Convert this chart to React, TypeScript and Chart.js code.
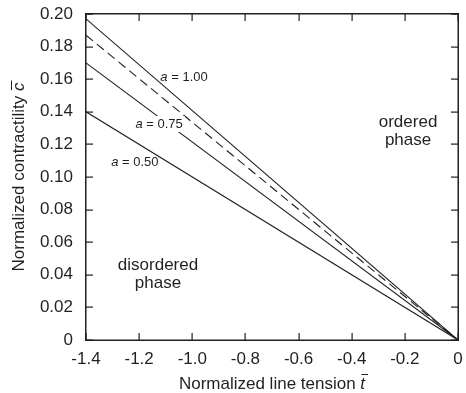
import React, { useEffect, useRef } from 'react';
import { Chart, registerables } from 'chart.js';

Chart.register(...registerables);

const tension = [-1.4, 0];
const curveA100 = [0.197, 0];
const curveDashed = [0.187, 0];
const curveA075 = [0.17, 0];
const curveA050 = [0.14, 0];

const xTicks = [-1.4, -1.2, -1.0, -0.8, -0.6, -0.4, -0.2, 0];
const xTickLabels = ['-1.4', '-1.2', '-1.0', '-0.8', '-0.6', '-0.4', '-0.2', '0'];
const yTicks = [0, 0.02, 0.04, 0.06, 0.08, 0.1, 0.12, 0.14, 0.16, 0.18, 0.2];
const yTickLabels = ['0', '0.02', '0.04', '0.06', '0.08', '0.10', '0.12', '0.14', '0.16', '0.18', '0.20'];

const curveLabelValues = ['1.00', '0.75', '0.50'];
const curveLabelX = [-1.031, -1.125, -1.216];
const curveLabelY = [0.1613, 0.1325, 0.109];
const curveLabelMasked = [false, true, false];

const regionLines = [['ordered', 'phase'], ['disordered', 'phase']];
const regionX = [-0.188, -1.129];
const regionY = [0.1337, 0.046];

const xTitle = 'Normalized line tension ';
const xTitleSym = 't';
const yTitle = 'Normalized contractility ';
const yTitleSym = 'c';

const INK = '#231f20';
const FAMILY = '"Liberation Sans", Arial, Helvetica, sans-serif';

function toPoints(xs: number[], ys: number[]) {
  return xs.map((x, i) => ({ x, y: ys[i] }));
}

const decorPlugin = {
  id: 'decor',
  afterDatasetsDraw(chart: any) {
    const ctx = chart.ctx;
    const xs = chart.scales.x;
    const ys = chart.scales.y;
    ctx.save();
    for (let i = 0; i < curveLabelValues.length; i++) {
      const px = xs.getPixelForValue(curveLabelX[i]);
      const py = ys.getPixelForValue(curveLabelY[i]);
      const rest = ' = ' + curveLabelValues[i];
      ctx.font = `italic 13px ${FAMILY}`;
      const wa = ctx.measureText('a').width;
      ctx.font = `13px ${FAMILY}`;
      const wr = ctx.measureText(rest).width;
      const w = wa + wr;
      const x0 = px - w / 2;
      if (curveLabelMasked[i]) {
        ctx.fillStyle = '#fff';
        ctx.fillRect(x0 - 2, py - 8, w + 4, 16);
      }
      ctx.fillStyle = INK;
      ctx.textBaseline = 'middle';
      ctx.textAlign = 'left';
      ctx.font = `italic 13px ${FAMILY}`;
      ctx.fillText('a', x0, py);
      ctx.font = `13px ${FAMILY}`;
      ctx.fillText(rest, x0 + wa, py);
    }
    ctx.font = `17px ${FAMILY}`;
    ctx.textAlign = 'center';
    ctx.textBaseline = 'middle';
    ctx.fillStyle = INK;
    for (let i = 0; i < regionLines.length; i++) {
      const px = xs.getPixelForValue(regionX[i]);
      const py = ys.getPixelForValue(regionY[i]);
      regionLines[i].forEach((t, j) => ctx.fillText(t, px, py + j * 18));
    }
    ctx.restore();
  },
  afterDraw(chart: any) {
    const ctx = chart.ctx;
    const ca = chart.chartArea;
    const xs = chart.scales.x;
    const ys = chart.scales.y;
    ctx.save();
    ctx.fillStyle = INK;
    ctx.textBaseline = 'alphabetic';
    ctx.textAlign = 'left';
    ctx.font = `17px ${FAMILY}`;
    const w1 = ctx.measureText(xTitle).width;
    ctx.font = `italic 17px ${FAMILY}`;
    const w2 = ctx.measureText(xTitleSym).width;
    const cx = (ca.left + ca.right) / 2;
    const bx = cx - (w1 + w2) / 2;
    const by = 389;
    ctx.font = `17px ${FAMILY}`;
    ctx.fillText(xTitle, bx, by);
    ctx.font = `italic 17px ${FAMILY}`;
    ctx.fillText(xTitleSym, bx + w1, by);
    ctx.fillRect(bx + w1 + 1, by - 15, w2 + 2, 1);
    ctx.restore();

    ctx.save();
    ctx.fillStyle = INK;
    ctx.textBaseline = 'alphabetic';
    ctx.textAlign = 'left';
    ctx.translate(24, (ca.top + ca.bottom) / 2);
    ctx.rotate(-Math.PI / 2);
    ctx.font = `17px ${FAMILY}`;
    const v1 = ctx.measureText(yTitle).width;
    ctx.font = `italic 17px ${FAMILY}`;
    const v2 = ctx.measureText(yTitleSym).width;
    const sx = -(v1 + v2) / 2;
    ctx.font = `17px ${FAMILY}`;
    ctx.fillText(yTitle, sx, 0);
    ctx.font = `italic 17px ${FAMILY}`;
    ctx.fillText(yTitleSym, sx + v1, 0);
    ctx.fillRect(sx + v1 + 1, -13, v2 + 1, 1);
    ctx.restore();

    // frame and inward ticks
    ctx.save();
    ctx.fillStyle = INK;
    const L = Math.round(ca.left);
    const R = Math.round(ca.right);
    const T = Math.round(ca.top);
    const B = Math.round(ca.bottom);
    ctx.fillRect(L - 1, T - 1, R - L + 2, 1.5);
    ctx.fillRect(L - 1, B - 0.5, R - L + 2, 1.5);
    ctx.fillRect(L - 1, T - 1, 1.5, B - T + 2);
    ctx.fillRect(R - 0.5, T - 1, 1.5, B - T + 2);
    const tl = 7;
    for (const v of xTicks) {
      const p = Math.round(xs.getPixelForValue(v));
      ctx.fillRect(p - 0.5, B - tl, 1.2, tl);
      ctx.fillRect(p - 0.5, T, 1.2, tl);
    }
    for (const v of yTicks) {
      const p = Math.round(ys.getPixelForValue(v));
      ctx.fillRect(L, p - 0.5, tl, 1.2);
      ctx.fillRect(R - tl, p - 0.5, tl, 1.2);
    }
    ctx.restore();
  },
};

export default function App() {
  const ref = useRef<HTMLCanvasElement | null>(null);
  useEffect(() => {
    if (!ref.current) return;
    const line = (data: number[], dash: number[]) => ({
      data: toPoints(tension, data),
      borderColor: INK,
      borderWidth: 1.1,
      borderDash: dash,
      pointRadius: 0,
      showLine: true,
      fill: false,
    });
    const chart = new Chart(ref.current, {
      type: 'scatter',
      data: {
        datasets: [
          line(curveA100, []),
          line(curveDashed, [9, 5]),
          line(curveA075, []),
          line(curveA050, []),
        ],
      },
      options: {
        animation: false,
        responsive: true,
        maintainAspectRatio: false,
        layout: { padding: { top: 14, right: 8, left: 0, bottom: 0 } },
        plugins: { legend: { display: false }, tooltip: { enabled: false } },
        scales: {
          x: {
            type: 'linear',
            min: -1.4,
            max: 0,
            afterBuildTicks: (s: any) => {
              s.ticks = xTicks.map((v) => ({ value: v }));
            },
            afterFit: (s: any) => {
              s.height = 53;
              s.paddingLeft = 0;
              s.paddingRight = 0;
            },
            grid: { display: false, drawTicks: false },
            border: { display: false },
            ticks: {
              padding: 9,
              color: INK,
              font: { family: FAMILY, size: 17 },
              maxRotation: 0,
              autoSkip: false,
              callback: (_v: any, i: number) => xTickLabels[i],
            },
          },
          y: {
            type: 'linear',
            min: 0,
            max: 0.2,
            afterBuildTicks: (s: any) => {
              s.ticks = yTicks.map((v) => ({ value: v }));
            },
            afterFit: (s: any) => {
              s.width = 86;
              s.paddingTop = 0;
              s.paddingBottom = 0;
            },
            grid: { display: false, drawTicks: false },
            border: { display: false },
            ticks: {
              padding: 13,
              color: INK,
              font: { family: FAMILY, size: 17 },
              autoSkip: false,
              callback: (_v: any, i: number) => yTickLabels[i],
            },
          },
        },
      },
      plugins: [decorPlugin],
    });
    return () => chart.destroy();
  }, []);
  return (
    <div style={{ position: 'fixed', left: 0, top: 0, width: 466, height: 393, background: '#fff' }}>
      <canvas ref={ref} />
    </div>
  );
}
